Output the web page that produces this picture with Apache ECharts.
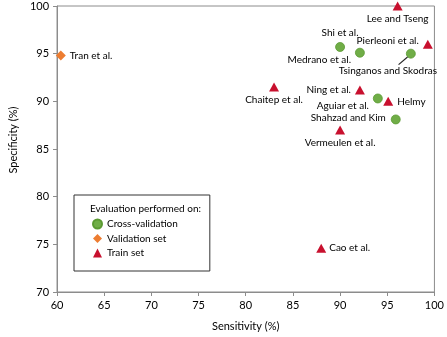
<!DOCTYPE html>
<html>
<head>
<meta charset="utf-8">
<script src="https://cdn.jsdelivr.net/npm/echarts@6/dist/echarts.min.js"></script>
<style>
  html, body { margin: 0; padding: 0; background: #fff; }
  #chart { width: 447px; height: 337px; }
</style>
</head>
<body>
<div id="chart"></div>
<script>
// 数据
var crossNames = ['Shi et al.', 'Medrano et al.', 'Tsinganos and Skodras', 'Aguiar et al.', 'Shahzad and Kim'];
var crossSens = [90.0, 92.1, 97.5, 94.0, 95.9];
var crossSpec = [95.7, 95.1, 95.0, 90.3, 88.1];

var validNames = ['Tran et al.'];
var validSens = [60.4];
var validSpec = [94.8];

var trainNames = ['Lee and Tseng', 'Pierleoni et al.', 'Chaitep et al.', 'Ning et al.', 'Helmy', 'Vermeulen et al.', 'Cao et al.'];
var trainSens = [96.1, 99.3, 83.0, 92.1, 95.1, 90.0, 88.0];
var trainSpec = [100.0, 96.0, 91.5, 91.2, 90.0, 87.0, 74.6];

var FONT = 'Lato';

// 标签位置
var labelPos = {
    'Shi et al.': { position: 'top', distance: 4 },
    'Medrano et al.': { position: 'left', distance: 4 },
    'Tsinganos and Skodras': { position: 'bottom', distance: 4 },
    'Aguiar et al.': { position: 'left', distance: 4 },
    'Shahzad and Kim': { position: 'left', distance: 5 },
    'Tran et al.': { position: 'right', distance: 4 },
    'Lee and Tseng': { position: 'bottom', distance: 3 },
    'Pierleoni et al.': { position: 'left', distance: 4 },
    'Chaitep et al.': { position: 'bottom', distance: 3 },
    'Ning et al.': { position: 'left', distance: 4 },
    'Helmy': { position: 'right', distance: 4 },
    'Vermeulen et al.': { position: 'bottom', distance: 3 },
    'Cao et al.': { position: 'right', distance: 3 }
};
// 标签微调 (dx, dy)
var labelShift = {
    'Medrano et al.': [0, 7],
    'Aguiar et al.': [0, 7],
    'Shahzad and Kim': [0, -2],
    'Pierleoni et al.': [0, -3],
    'Tsinganos and Skodras': [-23, 3]
};

function buildData(names, xs, ys) {
    return names.map(function (n, i) {
        return { name: n, value: [xs[i], ys[i]], label: labelPos[n] };
    });
}

function shiftLabel(params) {
    var s = labelShift[params.text];
    if (s) {
        return { dx: s[0], dy: s[1] };
    }
    return {};
}

function DrawChart() {
    var chart = echarts.init(document.getElementById('chart'));
    var labelStyle = {
        show: true,
        formatter: '{b}',
        fontFamily: FONT,
        fontSize: 10,
        color: '#000'
    };
    // Tsinganos and Skodras 引导线 (从点向左下偏移)
    var k = crossNames.indexOf('Tsinganos and Skodras');
    var tx = crossSens[k], ty = crossSpec[k];
    var leader = [[tx - 0.35, ty - 0.35], [tx - 1.3, ty - 1.15]];

    var option = {
        animation: false,
        textStyle: { fontFamily: FONT },
        grid: {
            left: 48.5, right: 10, top: 6, bottom: 41,
            show: true, borderColor: '#8c8c8c', borderWidth: 1
        },
        title: {
            text: 'Evaluation performed on:',
            left: 90, top: 204, padding: 0,
            textStyle: { fontFamily: FONT, fontSize: 10, fontWeight: 'normal', color: '#000' }
        },
        legend: {
            orient: 'vertical',
            left: 74, top: 195,
            padding: [23, 32, 12, 18],
            borderColor: '#333',
            borderWidth: 1,
            itemWidth: 9, itemHeight: 9, itemGap: 2.5,
            textStyle: { fontFamily: FONT, fontSize: 10, color: '#000', lineHeight: 12 },
            data: ['Cross-validation', 'Validation set', 'Train set']
        },
        xAxis: {
            type: 'value',
            min: 60, max: 100, interval: 5,
            name: 'Sensitivity (%)',
            nameLocation: 'middle',
            nameGap: 29,
            nameTextStyle: { fontFamily: FONT, fontSize: 11, color: '#000' },
            splitLine: { show: false },
            axisLine: { lineStyle: { color: '#8c8c8c' } },
            axisTick: { show: true, length: 4, lineStyle: { color: '#8c8c8c' } },
            axisLabel: { fontFamily: FONT, fontSize: 11, color: '#000', margin: 8 }
        },
        yAxis: {
            type: 'value',
            min: 70, max: 100, interval: 5,
            name: 'Specificity (%)',
            nameLocation: 'middle',
            nameGap: 31,
            nameTextStyle: { fontFamily: FONT, fontSize: 11, color: '#000', padding: [0, 0, 0, 18] },
            splitLine: { show: false },
            axisLine: { show: true, lineStyle: { color: '#8c8c8c' } },
            axisTick: { show: true, length: 4, lineStyle: { color: '#8c8c8c' } },
            axisLabel: { fontFamily: FONT, fontSize: 11, color: '#000', margin: 8 }
        },
        series: [
            {
                name: 'leader',
                type: 'line',
                silent: true,
                symbol: 'none',
                z: 5,
                lineStyle: { color: '#262626', width: 1.2 },
                data: leader
            },
            {
                name: 'Cross-validation',
                type: 'scatter',
                symbol: 'circle',
                symbolSize: 9,
                clip: false,
                itemStyle: { color: '#70ad47', borderColor: '#5b9a32', borderWidth: 0.8, opacity: 1 },
                label: labelStyle,
                labelLayout: shiftLabel,
                data: buildData(crossNames, crossSens, crossSpec)
            },
            {
                name: 'Validation set',
                type: 'scatter',
                symbol: 'diamond',
                symbolSize: 10,
                clip: false,
                itemStyle: { color: '#ed7d31', opacity: 1 },
                label: labelStyle,
                data: buildData(validNames, validSens, validSpec)
            },
            {
                name: 'Train set',
                type: 'scatter',
                symbol: 'triangle',
                symbolSize: [10, 9],
                clip: false,
                itemStyle: { color: '#c8102e', opacity: 1 },
                label: labelStyle,
                labelLayout: shiftLabel,
                data: buildData(trainNames, trainSens, trainSpec)
            }
        ]
    };
    chart.setOption(option);
}

DrawChart();
</script>
</body>
</html>
